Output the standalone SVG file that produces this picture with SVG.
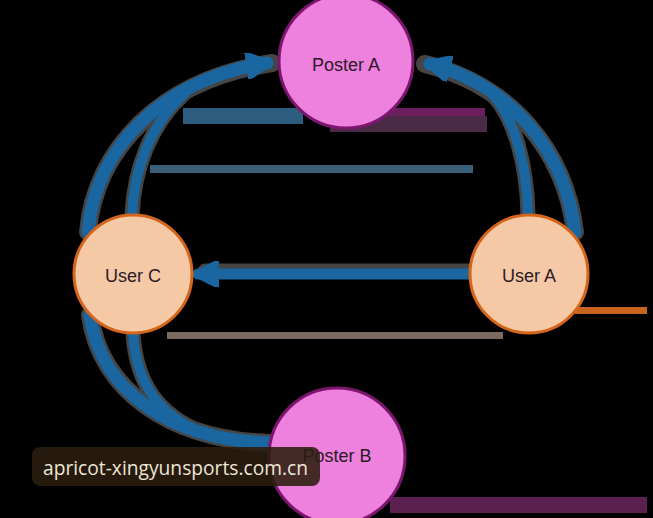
<svg xmlns="http://www.w3.org/2000/svg" width="653" height="518" viewBox="0 0 653 518">
<defs>
<style>
.poster{fill:#ee80de;stroke:#7d166f;stroke-width:3}
.user{fill:#f5c8a6;stroke:#d5651b;stroke-width:3}
.lbl{font-family:"Liberation Sans",Arial,sans-serif;font-size:18px;fill:#2a1a26;text-anchor:middle}
.halo{fill:none;stroke:#454545;stroke-linecap:round}
.edge{fill:none;stroke:#1a66a0;stroke-linecap:round}
</style>
<marker id="ah" viewBox="0 0 10 10" refX="8" refY="5" markerWidth="2" markerHeight="2" orient="auto" markerUnits="strokeWidth">
<path d="M0,0 L10,5 L0,10 z" fill="#1a66a0" stroke="#1a66a0" stroke-width="1.5" stroke-linejoin="round"/>
</marker>
<marker id="ah2" viewBox="0 0 10 10" refX="8" refY="5" markerWidth="2.4" markerHeight="2.4" orient="auto" markerUnits="strokeWidth">
<path d="M0,0 L10,5 L0,10 z" fill="#1a66a0" stroke="#1a66a0" stroke-width="1.5" stroke-linejoin="round"/>
</marker>
</defs>
<rect width="653" height="518" fill="#000"/>
<g id="bars">
<rect x="183" y="108" width="120" height="16" fill="#2c5c7e"/>
<rect x="330" y="108" width="155" height="8" fill="#6c1f5e"/>
<rect x="330" y="116" width="157" height="16" fill="#4a2a46"/>
<rect x="150" y="165" width="323" height="8" fill="#3b5e78"/>
<rect x="167" y="332" width="336" height="7" fill="#7b6a62"/>
<rect x="575" y="307" width="72" height="7" fill="#c9641e"/>
<rect x="390" y="497" width="257" height="16" fill="#5c2050"/>
</g>
<g id="connectors">
<path class="halo" stroke-width="18" d="M88 232 C95 150 160 80 272 63"/>
<path class="halo" stroke-width="15" d="M132 215 C134 170 150 125 184 94"/>
<path class="halo" stroke-width="18" d="M575 232 C565 150 510 85 425 64"/>
<path class="halo" stroke-width="15" d="M528 215 C527 165 515 120 493 95"/>
<path class="halo" stroke-width="18" d="M90 315 C100 390 170 440 270 443"/>
<path class="halo" stroke-width="15" d="M133 333 C136 385 160 415 201 432"/>
<path class="halo" stroke-width="15" d="M468 271 L205 271"/>
<path class="edge" stroke-width="13" d="M88 232 C95 150 160 80 267 63" marker-end="url(#ah)"/>
<path class="edge" stroke-width="10" d="M132 215 C134 170 150 125 184 94"/>
<path class="edge" stroke-width="13" d="M575 232 C565 150 510 85 430 64" marker-end="url(#ah)"/>
<path class="edge" stroke-width="10" d="M528 215 C527 165 515 120 493 95"/>
<path class="edge" stroke-width="13" d="M90 315 C100 390 170 440 270 443"/>
<path class="edge" stroke-width="10" d="M133 333 C136 385 160 415 201 432"/>
<path class="edge" stroke-width="11" d="M468 274 L198 274" marker-end="url(#ah2)"/>
</g>
<g id="posterA">
<circle class="poster" cx="346" cy="61" r="67"/>
<text class="lbl" x="346" y="71">Poster A</text>
</g>
<g id="userC">
<circle class="user" cx="133" cy="274" r="59"/>
<text class="lbl" x="133" y="282">User C</text>
</g>
<g id="userA">
<circle class="user" cx="529" cy="274" r="59"/>
<text class="lbl" x="529" y="282">User A</text>
</g>
<g id="posterB">
<circle class="poster" cx="337" cy="456" r="68"/>
<text class="lbl" x="337" y="462">Poster B</text>
</g>
<g id="watermark">
<rect x="32" y="447" width="288" height="39" rx="8" fill="#2b1e0e" fill-opacity="0.88"/>
<text x="43" y="475" font-family="'Open Sans','Noto Sans',sans-serif" font-size="20" fill="#ede5d8" textLength="265" lengthAdjust="spacingAndGlyphs">apricot-xingyunsports.com.cn</text>
</g>
</svg>
